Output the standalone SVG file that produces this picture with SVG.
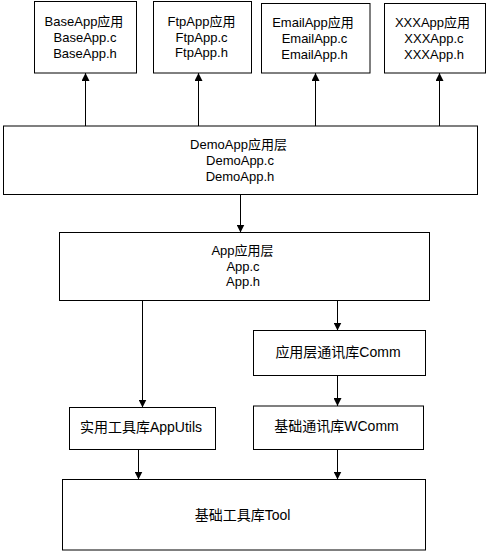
<svg xmlns="http://www.w3.org/2000/svg" width="487" height="553" viewBox="0 0 487 553">
<style>
.box{fill:#fff;stroke:#000;stroke-width:1}
.t{font-family:"Liberation Sans","Noto Sans CJK SC",sans-serif;font-size:13px;fill:#000;text-anchor:middle}
.t2{font-family:"Liberation Sans","Noto Sans CJK SC",sans-serif;font-size:14px;fill:#000;text-anchor:middle}
.c{stroke:#000;stroke-width:1;fill:none;marker-end:url(#ah)}
</style>
<defs>
<marker id="ah" markerUnits="userSpaceOnUse" markerWidth="8" markerHeight="8" refX="8" refY="4" orient="auto">
<path d="M0,0 L8,4 L0,8 z" fill="#000"/>
</marker>
</defs>
<rect width="487" height="553" fill="#fff"/>
<g id="connectors">
<line class="c" x1="85.5" y1="126" x2="85.5" y2="73"/>
<line class="c" x1="198.5" y1="126" x2="198.5" y2="73"/>
<line class="c" x1="315.5" y1="126" x2="315.5" y2="73"/>
<line class="c" x1="439.5" y1="126" x2="439.5" y2="73"/>
<line class="c" x1="240.5" y1="194.5" x2="240.5" y2="232.5"/>
<line class="c" x1="142.5" y1="300.5" x2="142.5" y2="407.5"/>
<line class="c" x1="337.5" y1="300.5" x2="337.5" y2="330.5"/>
<line class="c" x1="337.5" y1="375.5" x2="337.5" y2="406"/>
<line class="c" x1="138.5" y1="450" x2="138.5" y2="479.5"/>
<line class="c" x1="337.5" y1="450" x2="337.5" y2="479.5"/>
</g>
<g id="baseapp">
<rect class="box" x="34.5" y="1.5" width="102" height="71.5"/>
<text class="t" x="84" y="26">BaseApp应用</text>
<text class="t" x="85" y="42">BaseApp.c</text>
<text class="t" x="85" y="57.5">BaseApp.h</text>
</g>
<g id="ftpapp">
<rect class="box" x="153.5" y="1.5" width="98" height="71.5"/>
<text class="t" x="201.5" y="25.5">FtpApp应用</text>
<text class="t" x="201.5" y="42">FtpApp.c</text>
<text class="t" x="201.5" y="57">FtpApp.h</text>
</g>
<g id="emailapp">
<rect class="box" x="261.5" y="3.5" width="108.5" height="69.5"/>
<text class="t" x="313" y="27">EmailApp应用</text>
<text class="t" x="314.5" y="43">EmailApp.c</text>
<text class="t" x="314.5" y="58.5">EmailApp.h</text>
</g>
<g id="xxxapp">
<rect class="box" x="384.5" y="3.5" width="101" height="69.5"/>
<text class="t" x="432.5" y="26.5">XXXApp应用</text>
<text class="t" x="434" y="43">XXXApp.c</text>
<text class="t" x="434" y="58.5">XXXApp.h</text>
</g>
<g id="demoapp">
<rect class="box" x="3.5" y="126" width="474" height="68.5"/>
<text class="t" x="238.5" y="148.5">DemoApp应用层</text>
<text class="t" x="240" y="164.5">DemoApp.c</text>
<text class="t" x="240" y="180.5">DemoApp.h</text>
</g>
<g id="app">
<rect class="box" x="59.5" y="232.5" width="370" height="68"/>
<text class="t" x="242.5" y="254.5">App应用层</text>
<text class="t" x="243" y="270.5">App.c</text>
<text class="t" x="243" y="286">App.h</text>
</g>
<g id="comm">
<rect class="box" x="253.5" y="330.5" width="172" height="45"/>
<text class="t2" x="338" y="356.5">应用层通讯库Comm</text>
</g>
<g id="apputils">
<rect class="box" x="69.5" y="407.5" width="146" height="42"/>
<text class="t2" x="141" y="432">实用工具库AppUtils</text>
</g>
<g id="wcomm">
<rect class="box" x="253.5" y="406" width="170" height="43.5"/>
<text class="t2" x="336.5" y="431">基础通讯库WComm</text>
</g>
<g id="tool">
<rect class="box" x="62.5" y="479.5" width="363" height="70.5"/>
<text class="t2" x="242.5" y="520">基础工具库Tool</text>
</g>
</svg>
